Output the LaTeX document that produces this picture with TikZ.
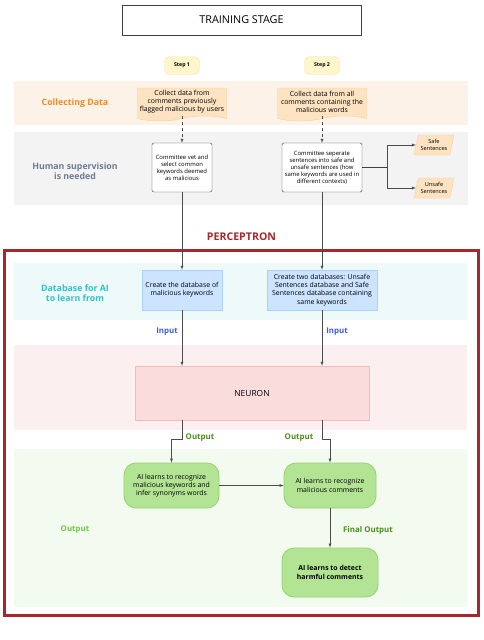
\documentclass[tikz,border=0pt]{standalone}
\usepackage{fontspec}
\setmainfont{Open Sans}
\usetikzlibrary{scopes,shapes.symbols,shapes.geometric}

\definecolor{stepfill}{HTML}{FFF6CC}
\definecolor{stepline}{HTML}{F5E3A6}
\definecolor{orangeband}{HTML}{FDF2E8}
\definecolor{docfill}{HTML}{FDE3C2}
\definecolor{docline}{HTML}{F8CF98}
\definecolor{collect}{HTML}{F08C28}
\definecolor{grayband}{HTML}{F3F3F3}
\definecolor{human}{HTML}{6E7B91}
\definecolor{perc}{HTML}{A6282C}
\definecolor{cyanband}{HTML}{EEFAFA}
\definecolor{dbtext}{HTML}{2EC4CB}
\definecolor{dbfill}{HTML}{CCE4FF}
\definecolor{dbline}{HTML}{A8D0FA}
\definecolor{inputc}{HTML}{3B5BDB}
\definecolor{pinkband}{HTML}{FCEFEF}
\definecolor{neurfill}{HTML}{FADCDC}
\definecolor{neurline}{HTML}{F5BABA}
\definecolor{outc}{HTML}{4C8C1C}
\definecolor{outlight}{HTML}{6ACD3A}
\definecolor{greenband}{HTML}{F3FAF0}
\definecolor{aifill}{HTML}{B2E494}
\definecolor{ailine}{HTML}{94D46E}

\begin{document}
\begin{tikzpicture}[x=1pt,y=-1pt,
    arr/.style={->,>=latex,draw=black!70,thin},
    lane/.style={font=\bfseries\fontsize{8.8}{10.5}\selectfont,align=center},
    tag/.style={font=\bfseries\fontsize{7.9}{9.5}\selectfont},
    stepbox/.style={rectangle,rounded corners=5pt,draw=stepline,fill=stepfill,minimum width=35pt,minimum height=18pt,font=\bfseries\fontsize{5.2}{6}\selectfont},
    doc/.style={tape,tape bend top=none,tape bend height=5pt,draw=docline,fill=docfill,minimum width=89pt,minimum height=33pt,inner sep=0.5pt,font=\fontsize{6.9}{8}\selectfont,align=center},
    vet/.style={rectangle,rounded corners=1.5pt,draw=black!75,fill=white,minimum height=49pt,inner sep=1pt,font=\fontsize{5.9}{7}\selectfont,align=center},
    sent/.style={trapezium,trapezium left angle=70,trapezium right angle=110,trapezium stretches body,draw=docline,fill=docfill,minimum width=40pt,minimum height=20pt,inner sep=0.5pt,font=\fontsize{5.6}{6.5}\selectfont,align=center},
    db/.style={rectangle,draw=dbline,fill=dbfill,minimum height=40pt,inner sep=1pt,font=\fontsize{6.9}{8.2}\selectfont,align=center},
    ai/.style={rectangle,rounded corners=12pt,draw=ailine,fill=aifill,thick,inner sep=1pt,font=\fontsize{6.9}{8.2}\selectfont,align=center},
]
\useasboundingbox (0,0) rectangle (483,640);

    %%%
    % Bands
    \fill[orangeband] (14,81) rectangle (468,125);
    \fill[grayband] (14,132) rectangle (468,205);
    \fill[cyanband] (14,263) rectangle (467,320);
    \fill[pinkband] (14,345) rectangle (467,430);
    \fill[greenband] (14,449) rectangle (467,607);
    \draw[perc,line width=2.5pt] (4.5,250.5) rectangle (478.5,615.5);

    %%%
    % Training stage
    \node[draw=black!75,minimum width=239pt,minimum height=30pt,font=\fontsize{10.8}{12}\selectfont] (title) at (241.5,20) {TRAINING STAGE};
    \node[stepbox] (step1) at (182,65.5) {Step 1};
    \node[stepbox] (step2) at (322,65.5) {Step 2};

    \node[lane,text=collect] (collectlbl) at (75,103) {Collecting Data};
    \node[doc] (doc1) at (182,102) {Collect data from\\comments previously\\flagged malicious by users};
    \node[doc] (doc2) at (322,102) {Collect data from all\\comments containing the\\malicious words};

    \node[lane,text=human] (humanlbl) at (75,171) {Human supervision\\is needed};
    \node[vet,minimum width=60pt] (vet1) at (182,167.5) {Committee vet and\\select common\\keywords deemed\\as malicious};
    \node[vet,minimum width=80pt] (vet2) at (322,167.5) {Committee seperate\\sentences into safe and\\unsafe sentences (how\\same keywords are used in\\different contexts)};
    \node[sent] (safe) at (434,145) {Safe\\Sentences};
    \node[sent] (unsafe) at (434,188) {Unsafe\\Sentences};

    {[arr,dashed]
        \draw (doc1.south) -- (vet1.north);
        \draw (doc2.south) -- (vet2.north);
    }
    \draw[black!75,thin] (vet2.east) -- ++(25,0) coordinate (fork);
    {[arr]
        \draw (fork) |- (safe.west);
        \draw (fork) |- (unsafe.west);
    }

    %%%
    % Perceptron
    \node[font=\bfseries\fontsize{10.6}{12}\selectfont,text=perc] (perclbl) at (241.5,237) {PERCEPTRON};

    \node[lane,text=dbtext] (dblbl) at (75,293) {Database for AI\\to learn from};
    \node[db,minimum width=80pt] (db1) at (182,290) {Create the database of\\malicious keywords};
    \node[db,minimum width=110pt] (db2) at (322,290) {Create two databases: Unsafe\\Sentences database and Safe\\Sentences database containing\\same keywords};

    \node[tag,text=inputc] (in1) at (167,332) {Input};
    \node[tag,text=inputc] (in2) at (337,332) {Input};

    \node[rectangle,draw=neurline,fill=neurfill,minimum width=234pt,minimum height=54pt,font=\fontsize{8.4}{10}\selectfont] (neuron) at (252,393) {NEURON};

    \node[tag,text=outc] (out1) at (200,438) {Output};
    \node[tag,text=outc] (out2) at (299,438) {Output};

    \node[ai,minimum width=95pt,minimum height=45pt] (ai1) at (171.5,485.5) {AI learns to recognize\\malicious keywords and\\infer synonyms words};
    \node[ai,minimum width=92pt,minimum height=45pt] (ai2) at (330,485.5) {AI learns to recognize\\malicious comments};
    \node[ai,minimum width=96pt,minimum height=49pt,font=\bfseries\fontsize{6.9}{8.2}\selectfont] (ai3) at (330,572.5) {AI learns to detect\\harmful comments};

    \node[tag,text=outlight] (outlbl) at (75,530) {Output};
    \node[tag,text=outc] (finallbl) at (368,530) {Final Output};

    {[arr]
        \draw (vet1.south) -- (db1.north);
        \draw (vet2.south) -- (db2.north);
        \draw (db1.south) -- (db1.south |- neuron.north);
        \draw (db2.south) -- (db2.south |- neuron.north);
        \draw (neuron.south -| db1.south) -- ++(0,19) -| (ai1.north);
        \draw (neuron.south -| db2.south) -- ++(0,19) -| (ai2.north);
        \draw (ai1) -- (ai2);
        \draw (ai2) -- (ai3);
    }

\end{tikzpicture}
\end{document}
